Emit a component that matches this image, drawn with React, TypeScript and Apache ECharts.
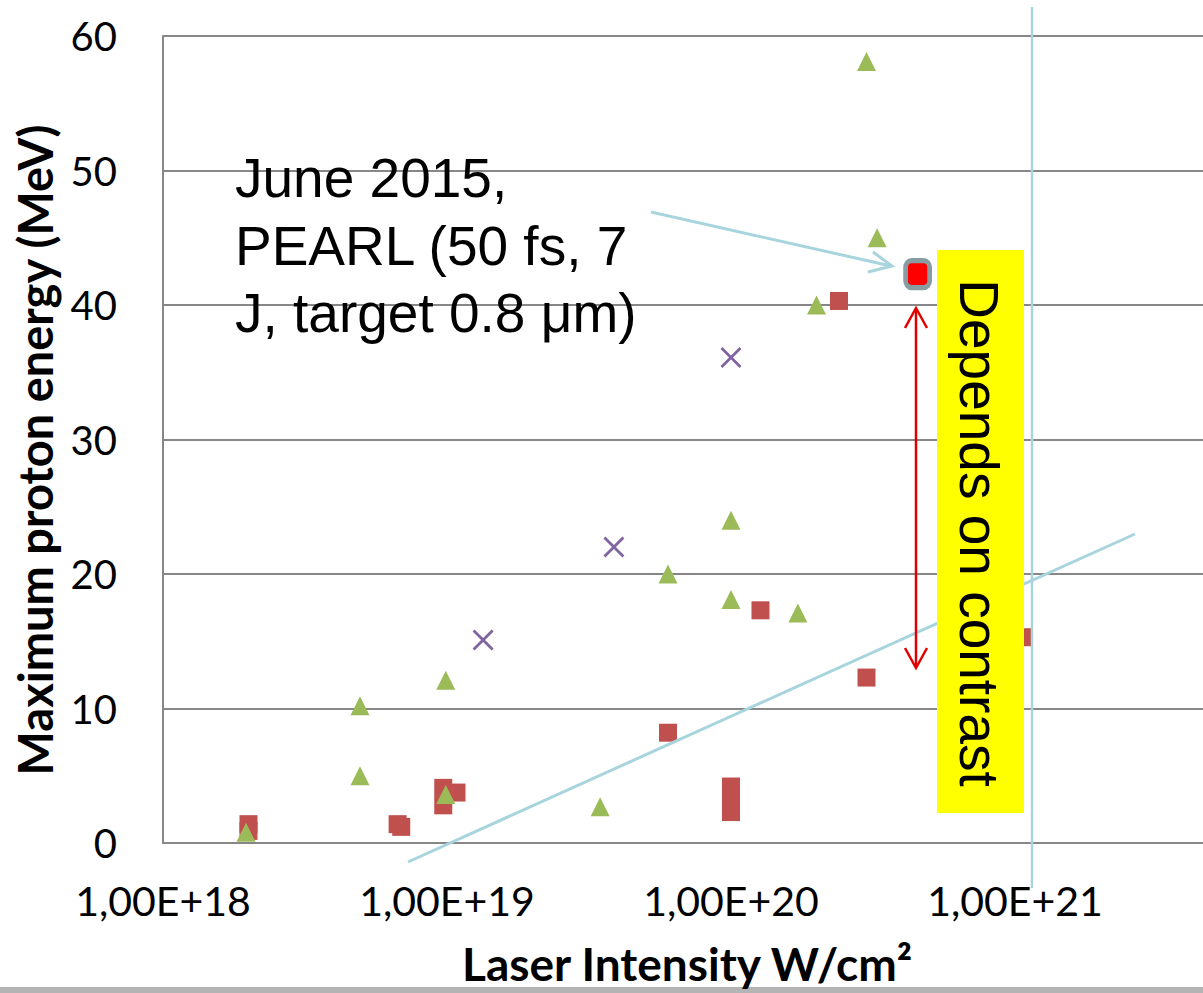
import React, { useEffect, useRef } from 'react';
import * as echarts from 'echarts';

// Laser intensity (W/cm²) and maximum proton energy (MeV)
const redIntensity = [2e18, 2e18, 6.7e18, 6.9e18, 9.7e18, 9.7e18, 1.08e19, 6e19, 1e20, 1e20, 1e20, 1.27e20, 2.4e20, 3e20, 1.06e21];
const redEnergy = [1.4, 0.9, 1.4, 1.2, 4.1, 2.8, 3.75, 8.2, 4.2, 3.3, 2.3, 17.3, 40.3, 12.3, 15.3];

const greenIntensity = [1.96e18, 4.94e18, 4.94e18, 9.9e18, 9.9e18, 3.46e19, 6e19, 1e20, 1e20, 1.72e20, 2e20, 3e20, 3.27e20];
const greenEnergy = [0.8, 10.2, 5.0, 12.1, 3.6, 2.7, 20.0, 24.0, 18.1, 17.1, 40.0, 58.1, 45.0];

const purpleIntensity = [1.34e19, 3.87e19, 1e20];
const purpleEnergy = [15.1, 22.0, 36.1];

const pearlIntensity = [4.54e20];
const pearlEnergy = [42.3];

const xTickLabels = ['1,00E+18', '1,00E+19', '1,00E+20', '1,00E+21', '1,00E+22'];
const xTitle = 'Laser Intensity W/cm²';
const yTitle = 'Maximum proton energy (MeV)';
const noteLines = ['June 2015,', 'PEARL (50 fs, 7', 'J, target 0.8 μm)'];
const contrastLabel = 'Depends on contrast';

const zip = (xs: number[], ys: number[]) => xs.map((x, i) => [x, ys[i]]);

const CYAN = '#a8d5dd';
const ARIAL = '"Liberation Sans", Arial, sans-serif';

export default function App() {
  const ref = useRef<HTMLDivElement>(null);
  useEffect(() => {
    if (!ref.current) return;
    const chart = echarts.init(ref.current, null, { renderer: 'svg' });
    const txt = (text: string, x: number, y: number, extra: any = {}, rot = 0, z = 110) => ({
      type: 'text',
      x,
      y,
      rotation: rot,
      z,
      style: {
        text,
        fill: '#000',
        fontFamily: ARIAL,
        fontSize: 55,
        align: 'left',
        textAlign: 'left',
        verticalAlign: 'middle',
        textVerticalAlign: 'middle',
        ...extra,
      },
    });
    const option: any = {
      animation: false,
      backgroundColor: '#ffffff',
      grid: { left: 163, top: 36, right: -96, bottom: 150, containLabel: false, outerBoundsMode: 'none' },
      xAxis: {
        type: 'log',
        logBase: 10,
        min: 1e18,
        max: 1e22,
        axisLine: { show: true, lineStyle: { color: '#878787', width: 2 } },
        axisTick: { show: false },
        splitLine: { show: false },
        axisLabel: {
          show: true,
          showMaxLabel: false,
          margin: 37,
          color: '#000',
          fontFamily: 'Lato',
          fontSize: 41,
          formatter: (v: number) => xTickLabels[Math.round(Math.log10(v)) - 18] ?? '',
        },
      },
      yAxis: {
        type: 'value',
        min: 0,
        max: 60,
        interval: 10,
        axisLine: { show: true, lineStyle: { color: '#878787', width: 2 } },
        axisTick: { show: false },
        splitLine: { show: true, lineStyle: { color: '#878787', width: 2 } },
        axisLabel: { margin: 46, color: '#000', fontFamily: 'Lato', fontSize: 40 },
      },
      series: [
        {
          type: 'scatter',
          name: 'red',
          symbol: 'rect',
          symbolSize: 18,
          itemStyle: { color: '#C0504D', opacity: 1 },
          data: zip(redIntensity, redEnergy),
          z: 2,
        },
        {
          type: 'scatter',
          name: 'green',
          symbol: 'triangle',
          symbolSize: [19, 19],
          itemStyle: { color: '#9BBB59', opacity: 1 },
          data: zip(greenIntensity, greenEnergy),
          z: 3,
        },
        {
          type: 'scatter',
          name: 'purple',
          symbol: 'path://M0,0L10,10M10,0L0,10',
          symbolSize: [19, 19],
          itemStyle: { color: 'none', borderColor: '#8064A2', borderWidth: 2.8, opacity: 1 },
          data: zip(purpleIntensity, purpleEnergy),
          z: 4,
        },
        {
          type: 'scatter',
          name: 'PEARL',
          symbol: 'roundRect',
          symbolSize: [24, 27],
          itemStyle: { color: '#FF0000', borderColor: '#879DA2', borderWidth: 5, opacity: 1 },
          data: zip(pearlIntensity, pearlEnergy),
          z: 5,
        },
      ],
      graphic: [
        { type: 'rect', z: 100, shape: { x: 0, y: 987, width: 1203, height: 6 }, style: { fill: '#b4b4b4' } },
        // cyan annotation lines
        { type: 'line', z: 100, shape: { x1: 408, y1: 862, x2: 1135, y2: 534 }, style: { stroke: CYAN, lineWidth: 3 } },
        { type: 'line', z: 100, shape: { x1: 1032, y1: 7, x2: 1032, y2: 888 }, style: { stroke: CYAN, lineWidth: 2.5 } },
        { type: 'line', z: 100, shape: { x1: 651, y1: 212, x2: 891, y2: 266 }, style: { stroke: CYAN, lineWidth: 3 } },
        { type: 'polyline', z: 100, shape: { points: [[873, 252], [892, 266], [868, 272]] }, style: { stroke: CYAN, lineWidth: 3, fill: 'none' } },
        // yellow box
        { type: 'rect', z: 101, shape: { x: 937, y: 250, width: 87, height: 563 }, style: { fill: '#FFFF00' } },
        // red double arrow
        { type: 'line', z: 102, shape: { x1: 916, y1: 309, x2: 916, y2: 667 }, style: { stroke: '#E00000', lineWidth: 2.5 } },
        { type: 'polyline', z: 102, shape: { points: [[905, 328], [916, 308], [927, 328]] }, style: { stroke: '#E00000', lineWidth: 2.5, fill: 'none' } },
        { type: 'polyline', z: 102, shape: { points: [[905, 648], [916, 668], [927, 648]] }, style: { stroke: '#E00000', lineWidth: 2.5, fill: 'none' } },
        // texts
        txt(contrastLabel, 979, 533, { align: 'center', textAlign: 'center' }, -Math.PI / 2),
        txt(noteLines[0], 235, 178),
        txt(noteLines[1], 235, 246),
        txt(noteLines[2], 235, 313),
        txt(yTitle, 35, 450, { fontFamily: 'Lato', fontWeight: 'bold', fontSize: 47, align: 'center', textAlign: 'center' }, Math.PI / 2),
        txt(xTitle, 687, 963, { fontFamily: 'Lato', fontWeight: 'bold', fontSize: 46, align: 'center', textAlign: 'center' }),
      ],
    };
    chart.setOption(option);
    return () => chart.dispose();
  }, []);
  return <div ref={ref} style={{ position: 'fixed', left: 0, top: 0, width: 1203, height: 993 }} />;
}
